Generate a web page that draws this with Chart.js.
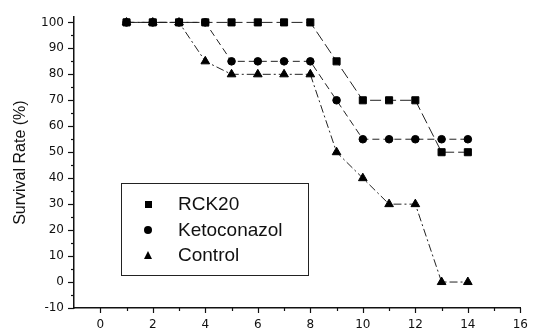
<!DOCTYPE html>
<html>
<head>
<meta charset="utf-8">
<script src="https://cdn.jsdelivr.net/npm/chart.js@4/dist/chart.umd.min.js"></script>
<style>
  html,body{margin:0;padding:0;background:#fff;}
  #wrap{position:relative;width:538px;height:333px;}
  #legend{position:absolute;left:121px;top:183px;width:188px;height:93px;border:1px solid #222;
    font-family:"Liberation Sans",Arial,sans-serif;font-size:19px;color:#111;box-sizing:border-box;}
  .row{position:absolute;left:0;height:24px;line-height:24px;}
  .mk{position:absolute;left:22px;top:7px;width:10px;height:10px;}
  .txt{position:absolute;left:56px;top:0;white-space:nowrap;}
</style>
</head>
<body>
<div id="wrap">
<canvas id="c" width="538" height="333"></canvas>
<div id="legend"></div>
</div>
<script>
// ---- data ----
const days = [1,2,3,4,5,6,7,8,9,10,11,12,13,14];
const seriesNames = ["RCK20","Ketoconazol","Control"];
const rck20       = [100,100,100,100,100,100,100,100,85,70,70,70,50,50];
const ketoconazol = [100,100,100,100,85,85,85,85,70,55,55,55,55,55];
const control     = [100,100,100,85,80,80,80,80,50,40,30,30,0,0];
const yAxisTitle = "Survival Rate (%)";
const yTickValues = [-10,-5,0,5,10,15,20,25,30,35,40,45,50,55,60,65,70,75,80,85,90,95,100];
const xTickValues = [0,1,2,3,4,5,6,7,8,9,10,11,12,13,14,15,16];
const xMajorStep = 2;
const yMajorStep = 10;

const pts = (arr) => days.map((d,i)=>({x:d,y:arr[i]}));
const styles = [
  {pointStyle:'rect', pointRadius:5, borderDash:[11,4]},
  {pointStyle:'circle', pointRadius:3.8, borderDash:[7,4]},
  {pointStyle:'triangle', pointRadius:5, borderDash:[8,3,2,3]}
];
const values = [rck20, ketoconazol, control];

const minorTicks = {
  id:'minorTicks',
  afterDraw(chart){
    const ctx = chart.ctx;
    ctx.save();
    ctx.strokeStyle = '#111';
    ctx.lineWidth = 1.2;
    const xs = chart.scales.x, ys = chart.scales.y;
    const bottom = chart.chartArea.bottom, left = chart.chartArea.left;
    xs.ticks.forEach(t=>{
      const px = Math.round(xs.getPixelForValue(t.value))+0.5;
      const major = t.value % xMajorStep === 0;
      ctx.beginPath();
      ctx.moveTo(px, bottom);
      ctx.lineTo(px, bottom + (major?5:3));
      ctx.stroke();
    });
    ys.ticks.forEach(t=>{
      const py = Math.round(ys.getPixelForValue(t.value))+0.5;
      const major = t.value % yMajorStep === 0;
      ctx.beginPath();
      ctx.moveTo(left, py);
      ctx.lineTo(left - (major?6:3), py);
      ctx.stroke();
    });
    ctx.restore();
  }
};

const chart = new Chart(document.getElementById('c'), {
  type:'line',
  data:{
    datasets: seriesNames.map((n,i)=>({
      label:n,
      data:pts(values[i]),
      borderColor:'#222',
      backgroundColor:'#000',
      borderWidth:1,
      borderDash:styles[i].borderDash,
      pointStyle:styles[i].pointStyle,
      pointRadius:styles[i].pointRadius,
      pointBackgroundColor:'#000',
      pointBorderColor:'#000',
      pointBorderWidth:1,
      tension:0
    }))
  },
  options:{
    responsive:false,
    animation:false,
    events:[],
    layout:{padding:{top:15,right:16,left:0,bottom:0}},
    plugins:{legend:{display:false},tooltip:{enabled:false}},
    scales:{
      x:{
        type:'linear', min:-1, max:16,
        afterFit(s){ s.height = 25; },
        afterBuildTicks(s){ s.ticks = xTickValues.map(v=>({value:v})); },
        border:{display:true,color:'#111',width:1.5},
        grid:{display:true,drawOnChartArea:false,drawTicks:false},
        ticks:{autoSkip:false,maxRotation:0,padding:10,color:'#111',
          font:{family:'"DejaVu Sans"',size:12},
          callback:(v)=> (v%xMajorStep===0) ? String(v) : ''}
      },
      y:{
        min:-10, max:102,
        afterFit(s){ s.width = 74; },
        afterBuildTicks(s){ s.ticks = yTickValues.map(v=>({value:v})); },
        border:{display:true,color:'#111',width:1.5},
        grid:{display:true,drawOnChartArea:false,drawTicks:false},
        ticks:{autoSkip:false,padding:10,color:'#111',
          font:{family:'"DejaVu Sans"',size:12},
          callback:(v)=> (v%yMajorStep===0) ? String(v) : ''},
        title:{display:true,text:yAxisTitle,color:'#111',
          font:{family:'"Liberation Sans"',size:16},padding:{top:11,bottom:0}}
      }
    }
  },
  plugins:[minorTicks]
});

// HTML legend built from series names and styles
const lg = document.getElementById('legend');
seriesNames.forEach((n,i)=>{
  const row = document.createElement('div');
  row.className='row';
  row.style.top = (8 + i*25.5) + 'px';
  const mk = document.createElement('div');
  mk.className='mk';
  if (styles[i].pointStyle==='rect'){ mk.style.cssText+='width:7px;height:7px;left:23px;top:9px;background:#000;'; }
  else if (styles[i].pointStyle==='circle'){ mk.style.cssText+='width:8px;height:8px;left:22px;top:8px;background:#000;border-radius:50%;'; }
  else { mk.style.cssText+='width:0;height:0;left:22px;top:8px;border-left:4.5px solid transparent;border-right:4.5px solid transparent;border-bottom:8px solid #000;'; }
  const tx = document.createElement('div');
  tx.className='txt'; tx.textContent = n;
  row.appendChild(mk); row.appendChild(tx);
  lg.appendChild(row);
});
</script>
</body>
</html>
